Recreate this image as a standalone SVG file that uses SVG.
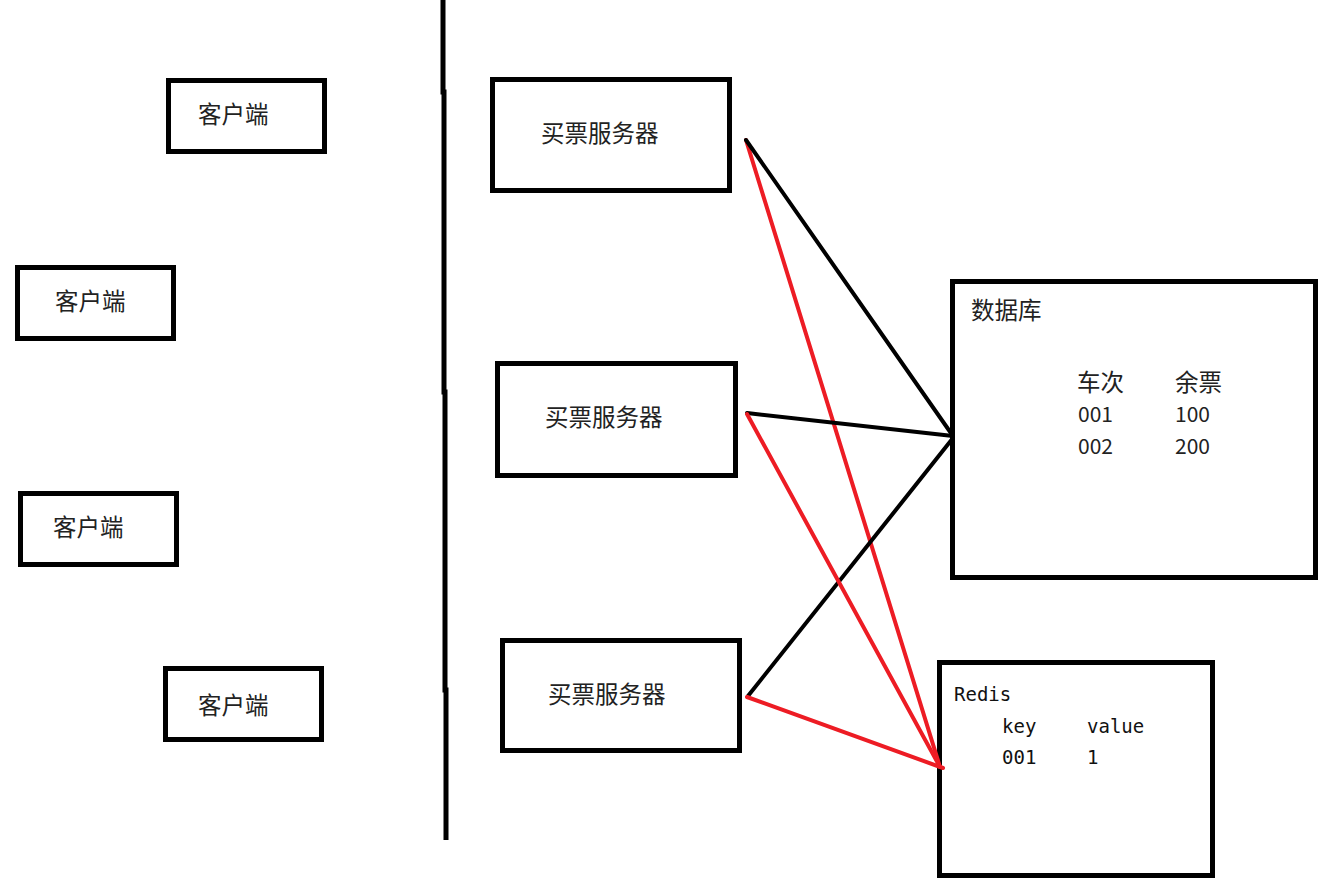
<svg xmlns="http://www.w3.org/2000/svg" width="1334" height="894" viewBox="0 0 1334 894">
<style>
.box{fill:#fff;stroke:#000;stroke-width:5}
.cjk{font-family:"Noto Sans CJK SC","Noto Sans",sans-serif;font-size:23.5px;fill:#222;dominant-baseline:central}
.num{font-family:"Noto Sans CJK SC","Noto Sans",sans-serif;font-size:21px;fill:#222;dominant-baseline:central}
.mono{font-family:"DejaVu Sans Mono","Liberation Mono",monospace;font-size:19px;fill:#111}
.blk{stroke:#000;stroke-width:4;fill:none;stroke-linecap:round}
.red{stroke:#ed1c24;stroke-width:4;fill:none;stroke-linecap:round}
</style>
<rect width="1334" height="894" fill="#fff"/>
<g id="divider">
<polyline points="443,0 443,92 444,92 444,392 445,392 445,690 446,690 446,840" fill="none" stroke="#000" stroke-width="5"/>
</g>
<g id="client1"><rect class="box" x="168.5" y="80.5" width="156" height="71"/><text class="cjk" x="198" y="113">客户端</text></g>
<g id="client2"><rect class="box" x="17.5" y="267.5" width="156" height="71"/><text class="cjk" x="55" y="300">客户端</text></g>
<g id="client3"><rect class="box" x="20.5" y="493.5" width="156" height="71"/><text class="cjk" x="53" y="526">客户端</text></g>
<g id="client4"><rect class="box" x="165.5" y="668.5" width="156" height="71"/><text class="cjk" x="198" y="704">客户端</text></g>
<g id="server1"><rect class="box" x="492.5" y="79.5" width="237" height="111"/><text class="cjk" x="541" y="132">买票服务器</text></g>
<g id="server2"><rect class="box" x="497.5" y="363.5" width="238" height="112"/><text class="cjk" x="545" y="416">买票服务器</text></g>
<g id="server3"><rect class="box" x="502.5" y="640.5" width="237" height="110"/><text class="cjk" x="548" y="693">买票服务器</text></g>
<g id="database"><rect class="box" x="952.5" y="281.5" width="363" height="296"/>
<text class="cjk" x="971" y="309">数据库</text>
<text class="cjk" x="1077" y="381">车次</text><text class="cjk" x="1175" y="381">余票</text>
<text class="num" x="1078" y="413">001</text><text class="num" x="1175" y="413">100</text>
<text class="num" x="1078" y="445">002</text><text class="num" x="1175" y="445">200</text>
</g>
<g id="redis"><rect class="box" x="939.5" y="662.5" width="273" height="213"/>
<text class="mono" x="954" y="701">Redis</text>
<text class="mono" x="1002" y="733">key</text><text class="mono" x="1087" y="733">value</text>
<text class="mono" x="1002" y="764">001</text><text class="mono" x="1087" y="764">1</text>
</g>
<g id="connectors">
<line class="red" x1="746" y1="140" x2="940" y2="767"/>
<line class="blk" x1="746" y1="140" x2="953" y2="436"/>
<line class="blk" x1="747" y1="413" x2="953" y2="436"/>
<line class="blk" x1="748" y1="696" x2="953" y2="438"/>
<line class="red" x1="747" y1="414" x2="940" y2="767"/>
<line class="red" x1="747" y1="697" x2="943" y2="768"/>
</g>
</svg>
